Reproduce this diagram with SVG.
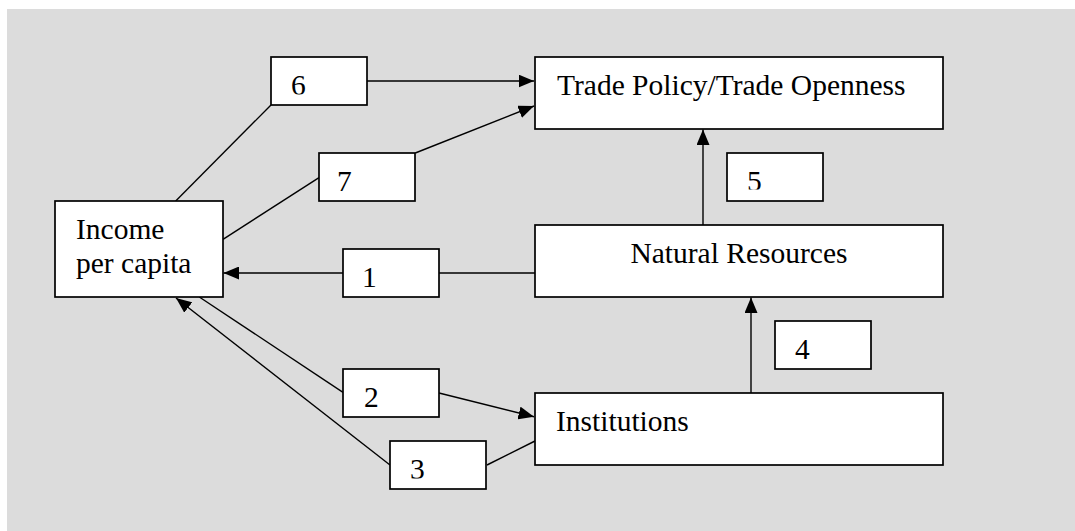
<svg xmlns="http://www.w3.org/2000/svg" width="1075" height="531" viewBox="0 0 1075 531">
<style>
.box{fill:#fff;stroke:#000;stroke-width:1.7}
.t{font-family:"Liberation Serif","Times New Roman",serif;font-size:29.5px;fill:#000}
.c{fill:none;stroke:#000;stroke-width:1.4}
</style>
<defs>
<marker id="ah" markerUnits="userSpaceOnUse" markerWidth="16" markerHeight="13" refX="15.5" refY="6.5" orient="auto">
<path d="M0,0 L15.5,6.5 L0,13 z" fill="#000"/>
</marker>
<clipPath id="c6"><rect x="271" y="57" width="96" height="37.5"/></clipPath>
<clipPath id="c5"><rect x="727" y="153" width="96" height="36.5"/></clipPath>
<clipPath id="c3"><rect x="390" y="441" width="96" height="37.5"/></clipPath>
</defs>
<rect x="7" y="9" width="1068" height="522" fill="#DCDCDC"/>
<g id="connectors">
<line class="c" x1="367" y1="81" x2="534" y2="81" marker-end="url(#ah)"/>
<line class="c" x1="175.7" y1="201" x2="271" y2="105"/>
<line class="c" x1="223" y1="239.3" x2="319" y2="177.7"/>
<line class="c" x1="415.3" y1="153" x2="534" y2="106" marker-end="url(#ah)"/>
<line class="c" x1="703" y1="225" x2="703" y2="129.5" marker-end="url(#ah)"/>
<line class="c" x1="535" y1="273" x2="439" y2="273"/>
<line class="c" x1="343" y1="273" x2="223.5" y2="273" marker-end="url(#ah)"/>
<line class="c" x1="199.3" y1="297" x2="343" y2="392.3"/>
<line class="c" x1="439" y1="393" x2="534" y2="416.7" marker-end="url(#ah)"/>
<line class="c" x1="535" y1="441" x2="487" y2="465"/>
<line class="c" x1="390" y1="465" x2="176" y2="298" marker-end="url(#ah)"/>
<line class="c" x1="751" y1="393" x2="751" y2="297.5" marker-end="url(#ah)"/>
</g>
<g id="income"><rect class="box" x="55" y="201" width="168" height="96"/><text class="t" x="76" y="239">Income</text><text class="t" x="76" y="273">per capita</text></g>
<g id="trade"><rect class="box" x="535" y="57" width="408" height="72"/><text class="t" x="557" y="95">Trade Policy/Trade Openness</text></g>
<g id="natural"><rect class="box" x="535" y="225" width="408" height="72"/><text class="t" x="739" y="263" text-anchor="middle">Natural Resources</text></g>
<g id="institutions"><rect class="box" x="535" y="393" width="408" height="72"/><text class="t" x="556" y="431">Institutions</text></g>
<g id="l6"><rect class="box" x="271" y="57" width="96" height="48"/><text class="t" x="291" y="95" clip-path="url(#c6)">6</text></g>
<g id="l7"><rect class="box" x="319" y="153" width="96" height="48"/><text class="t" x="337" y="191">7</text></g>
<g id="l1"><rect class="box" x="343" y="249" width="96" height="48"/><text class="t" x="362" y="287">1</text></g>
<g id="l2"><rect class="box" x="343" y="369" width="96" height="48"/><text class="t" x="364" y="407">2</text></g>
<g id="l3"><rect class="box" x="390" y="441" width="96" height="48"/><text class="t" x="410" y="479" clip-path="url(#c3)">3</text></g>
<g id="l5"><rect class="box" x="727" y="153" width="96" height="48"/><text class="t" x="747" y="191" clip-path="url(#c5)">5</text></g>
<g id="l4"><rect class="box" x="775" y="321" width="96" height="48"/><text class="t" x="795" y="359">4</text></g>
</svg>
